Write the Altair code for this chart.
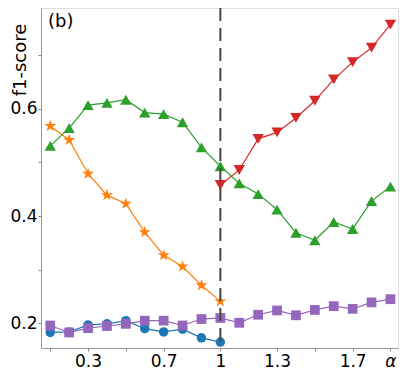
import math
import altair as alt
import pandas as pd

# ---- data ----
x_full = [0.1, 0.2, 0.3, 0.4, 0.5, 0.6, 0.7, 0.8, 0.9, 1.0,
          1.1, 1.2, 1.3, 1.4, 1.5, 1.6, 1.7, 1.8, 1.9]
x_left = [0.1, 0.2, 0.3, 0.4, 0.5, 0.6, 0.7, 0.8, 0.9, 1.0]
x_right = [1.0, 1.1, 1.2, 1.3, 1.4, 1.5, 1.6, 1.7, 1.8, 1.9]

blue_vals = [0.183, 0.184, 0.197, 0.199, 0.205, 0.190, 0.184, 0.189, 0.173, 0.165]
orange_vals = [0.568, 0.542, 0.479, 0.439, 0.423, 0.370, 0.327, 0.306, 0.271, 0.241]
green_vals = [0.531, 0.564, 0.607, 0.611, 0.617, 0.593, 0.590, 0.575, 0.528, 0.493,
              0.461, 0.441, 0.412, 0.369, 0.355, 0.389, 0.376, 0.428, 0.455]
red_vals = [0.458, 0.486, 0.544, 0.556, 0.583, 0.615, 0.655, 0.687, 0.714, 0.757]
purple_vals = [0.196, 0.183, 0.191, 0.195, 0.199, 0.205, 0.205, 0.196, 0.208, 0.210,
               0.201, 0.216, 0.224, 0.215, 0.225, 0.232, 0.227, 0.239, 0.245]

x_tick_values = [0.1, 0.3, 0.5, 0.7, 1.0, 1.3, 1.5, 1.7, 1.9]
y_tick_values = [0.2, 0.3, 0.4, 0.5, 0.6, 0.7]
vline_x = [1.0]

# star symbol path (unit square -1..1)
pts = []
for k in range(10):
    r = 1.0 if k % 2 == 0 else 0.382
    a = math.radians(-90 + 36 * k)
    pts.append(f"{r*math.cos(a):.3f},{r*math.sin(a):.3f}")
STAR = "M" + "L".join(pts) + "Z"

FONT = "DejaVu Sans"
xscale = alt.Scale(domain=[0.051, 1.94], nice=False, zero=False)
yscale = alt.Scale(domain=[0.154, 0.788], nice=False, zero=False)

xaxis = alt.Axis(
    values=x_tick_values, title=None, grid=False,
    labelExpr="datum.value >= 1.85 ? 'α' : ((datum.value == 0.1 || datum.value == 0.5 || datum.value == 1.5) ? '' : format(datum.value, '~g'))",
    labelFontStyle=alt.condition("datum.value >= 1.85", alt.value("italic"), alt.value("normal")),
    labelFont=FONT, labelFontSize=17, labelColor="black", labelPadding=2,
    tickSize=3, tickColor="#888", domainColor="#999", labelFlush=False,
)
yaxis = alt.Axis(
    values=y_tick_values, title=None, grid=False,
    labelExpr="round(datum.value*10) % 2 == 0 ? format(datum.value, '.1f') : ''",
    labelFont=FONT, labelFontSize=17, labelColor="black", labelPadding=1,
    tickSize=3, tickColor="#888", domainColor="#999", labelFlush=False,
)

X = lambda: alt.X("x:Q", scale=xscale, axis=xaxis)
Y = lambda: alt.Y("y:Q", scale=yscale, axis=yaxis)


def series(xs, ys, color, shape, size):
    df = pd.DataFrame({"x": xs, "y": ys})
    base = alt.Chart(df).encode(x=X(), y=Y())
    line = base.mark_line(color=color, strokeWidth=1.2)
    pts_ = base.mark_point(shape=shape, size=size, filled=True, color=color, opacity=1)
    return line + pts_


blue = series(x_left, blue_vals, "#1f77b4", "circle", 90)
orange = series(x_left, orange_vals, "#ff7f0e", STAR, 160)
green = series(x_full, green_vals, "#2ca02c", "triangle-up", 130)
red = series(x_right, red_vals, "#d62728", "triangle-down", 130)
purple = series(x_full, purple_vals, "#9467bd", "square", 95)

rule = alt.Chart(pd.DataFrame({"x": vline_x})).mark_rule(
    color="#444", strokeWidth=2, strokeDash=[13, 7]
).encode(x=X())

label_b = alt.Chart(pd.DataFrame({"t": ["(b)"]})).mark_text(
    font=FONT, fontSize=18, align="left", baseline="middle", color="black"
).encode(text="t:N", x=alt.value(7), y=alt.value(14))

ytitle = alt.Chart(pd.DataFrame({"t": ["f1-score"]})).mark_text(
    font=FONT, fontSize=18, align="center", baseline="middle", angle=270, color="black"
).encode(text="t:N", x=alt.value(-20), y=alt.value(52))

chart = alt.layer(blue, orange, green, red, purple, rule, label_b, ytitle).properties(
    width=357, height=340,
    autosize=alt.AutoSizeParams(type="none"),
    padding={"left": 33, "top": 0, "right": 1, "bottom": 24},
).configure_view(stroke="#999", strokeWidth=1).configure(background="white")

chart.save("out.html", embed_options={"renderer": "svg", "actions": False})
